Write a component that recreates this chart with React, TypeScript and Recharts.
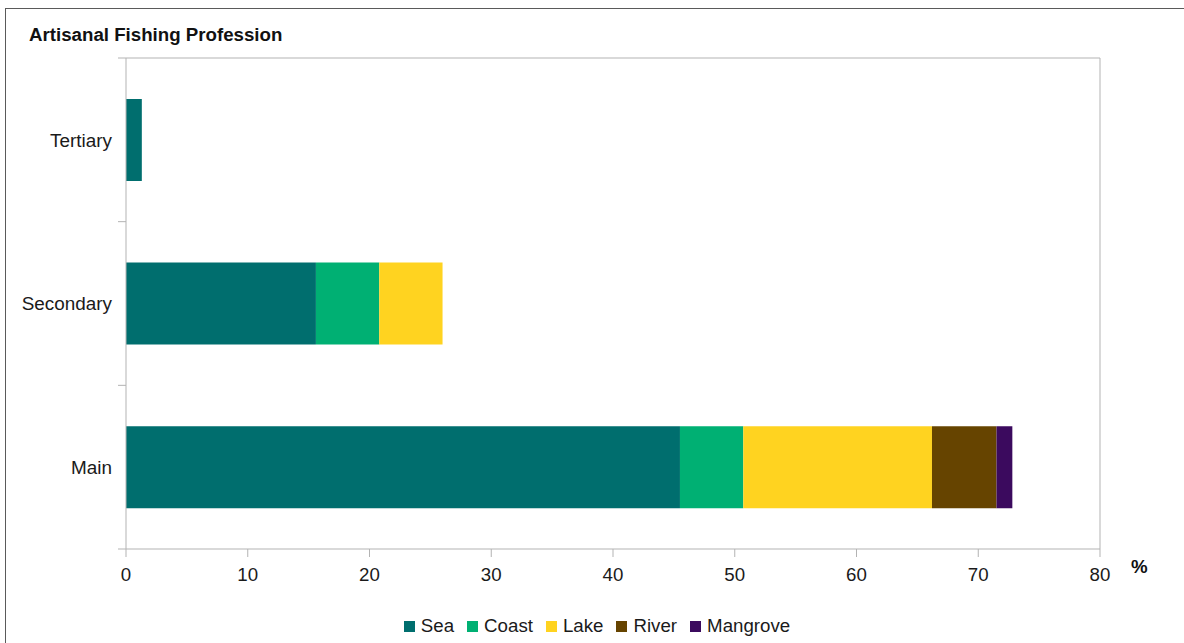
import React from 'react';
import { BarChart, Bar, XAxis, YAxis, CartesianGrid, Legend } from 'recharts';

const categories = ['Tertiary', 'Secondary', 'Main'];
const sea = [1.3, 15.6, 45.5];
const coast = [0, 5.2, 5.2];
const lake = [0, 5.2, 15.5];
const river = [0, 0, 5.3];
const mangrove = [0, 0, 1.3];
const xTicks = [0, 10, 20, 30, 40, 50, 60, 70, 80];
const boundaryTicks = [0, 1, 2, 3];

const seriesNames = ['Sea', 'Coast', 'Lake', 'River', 'Mangrove'];
const seriesColors = ['#006e6e', '#00b073', '#ffd320', '#664400', '#3b0a5e'];
const seriesValues = [sea, coast, lake, river, mangrove];

const data = categories.map((name, i) => {
  const row: Record<string, any> = { name };
  seriesNames.forEach((s, j) => {
    row[s] = seriesValues[j][i];
  });
  return row;
});

const FONT = '"Liberation Sans", Arial, sans-serif';

const LegendContent = () => {
  return (
    <div style={{ display: 'flex', justifyContent: 'center', alignItems: 'center', fontFamily: FONT, fontSize: 18.7, color: '#1a1a1a', height: 24, paddingLeft: 10 }}>
      {seriesNames.map((s, i) => (
        <div key={s} style={{ display: 'flex', alignItems: 'center', marginRight: i < seriesNames.length - 1 ? 13 : 0 }}>
          <div style={{ width: 11, height: 11, background: seriesColors[i], marginRight: 6 }} />
          <span>{s}</span>
        </div>
      ))}
    </div>
  );
};

const EmptyTick = () => <g />;

export default function App() {
  return (
    <div style={{ position: 'absolute', left: 0, top: 0, width: 1184, height: 643, overflow: 'hidden', background: '#fff' }}>
      <div style={{ position: 'absolute', left: 5, top: 8, width: 1400, height: 800, border: '1px solid #5a5a5a', boxSizing: 'border-box' }} />
      <div style={{ position: 'absolute', left: 29, top: 24, fontFamily: FONT, fontWeight: 'bold', fontSize: 18.7, color: '#111', whiteSpace: 'nowrap' }}>
        Artisanal Fishing Profession
      </div>
      <div style={{ position: 'absolute', left: 0, top: 0 }}>
        <BarChart
          width={1184}
          height={643}
          data={data}
          layout="vertical"
          margin={{ top: 58, right: 84, bottom: 40, left: 124 }}
          barCategoryGap="25%"
          style={{ fontFamily: FONT }}
        >
          <CartesianGrid
            yAxisId="b_cat"
            stroke="#b3b3b3"
            horizontalCoordinatesGenerator={({ offset }: any) => [offset.top]}
            verticalCoordinatesGenerator={({ offset }: any) => [offset.left + offset.width]}
          />
          <XAxis
            type="number"
            domain={[0, 80]}
            ticks={xTicks}
            interval={0}
            height={30}
            tickSize={8}
            tickMargin={11}
            axisLine={{ stroke: '#b3b3b3' }}
            tickLine={{ stroke: '#b3b3b3' }}
            tick={{ fill: '#1a1a1a', fontSize: 18.7, fontFamily: FONT }}
            label={{ value: '%', position: 'right', offset: 31, fill: '#111', fontSize: 18.7, fontWeight: 'bold', fontFamily: FONT, dy: 2 }}
          />
          <YAxis
            yAxisId="a_grid"
            type="number"
            dataKey={() => 0}
            domain={[0, boundaryTicks.length - 1]}
            allowDataOverflow
            ticks={boundaryTicks}
            interval={0}
            width={1}
            tick={<EmptyTick />}
            tickSize={8}
            axisLine={{ stroke: '#b3b3b3' }}
            tickLine={{ stroke: '#b3b3b3' }}
          />
          <YAxis
            yAxisId="b_cat"
            type="category"
            dataKey="name"
            width={1}
            axisLine={false}
            tickLine={false}
            tickSize={0}
            tickMargin={13}
            interval={0}
            tick={{ fill: '#1a1a1a', fontSize: 18.9, fontFamily: FONT }}
          />
          <Legend verticalAlign="bottom" height={24} wrapperStyle={{ bottom: 5, left: 0, width: 1184 }} content={<LegendContent />} />
          {seriesNames.map((s, j) => (
            <Bar key={s} dataKey={s} name={s} stackId="a" yAxisId="b_cat" fill={seriesColors[j]} isAnimationActive={false} />
          ))}
        </BarChart>
      </div>
    </div>
  );
}
